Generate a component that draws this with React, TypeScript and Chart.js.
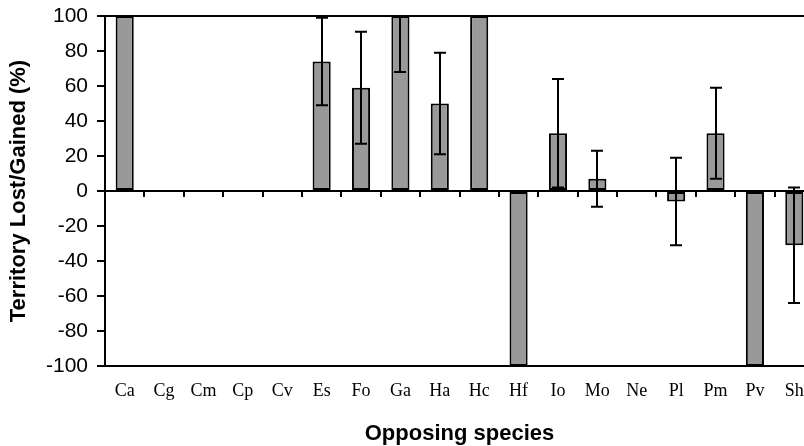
import React, { useEffect, useRef } from "react";
import { Chart, registerables } from "chart.js";

Chart.register(...registerables);

const categories = ["Ca", "Cg", "Cm", "Cp", "Cv", "Es", "Fo", "Ga", "Ha", "Hc", "Hf", "Io", "Mo", "Ne", "Pl", "Pm", "Pv", "Sh"];
const values = [100, 0, 0, 0, 0, 74, 59, 100, 50, 100, -100, 33, 7, 0, -6, 33, -100, -31];
const errors = [0, 0, 0, 0, 0, 25, 32, 32, 29, 0, 0, 31, 16, 0, 25, 26, 0, 33];
const yTitle = "Territory Lost/Gained (%)";
const xTitle = "Opposing species";

const SANS = "'Liberation Sans', Arial, sans-serif";
const SERIF = "'Liberation Serif', 'Times New Roman', serif";

const errorBars = {
  id: "errorBars",
  afterDatasetsDraw(chart: any) {
    const { ctx, chartArea } = chart;
    const xs = chart.scales.x;
    const ys = chart.scales.y;
    ctx.save();
    ctx.beginPath();
    ctx.rect(chartArea.left, chartArea.top - 1, chartArea.right - chartArea.left, chartArea.bottom - chartArea.top + 2);
    ctx.clip();
    ctx.strokeStyle = "#000";
    ctx.lineWidth = 2;
    const cap = 6;
    values.forEach((v, i) => {
      const e = errors[i];
      if (!e) return;
      const x = Math.round(xs.getPixelForValue(i));
      const hi = ys.getPixelForValue(v + e);
      const lo = ys.getPixelForValue(v - e);
      ctx.beginPath();
      ctx.moveTo(x, hi);
      ctx.lineTo(x, lo);
      ctx.moveTo(x - cap, hi);
      ctx.lineTo(x + cap, hi);
      ctx.moveTo(x - cap, lo);
      ctx.lineTo(x + cap, lo);
      ctx.stroke();
    });
    ctx.restore();
    ctx.save();
    ctx.strokeStyle = "#000";
    ctx.lineWidth = 2;
    ctx.beginPath();
    ctx.moveTo(chartArea.left, chartArea.top);
    ctx.lineTo(chartArea.right, chartArea.top);
    ctx.stroke();
    ctx.restore();
  },
};

export default function App() {
  const ref = useRef<HTMLCanvasElement | null>(null);
  useEffect(() => {
    if (!ref.current) return;
    const chart = new Chart(ref.current, {
      type: "bar",
      data: {
        labels: categories,
        datasets: [
          {
            data: values,
            backgroundColor: "#999999",
            borderColor: "#000000",
            borderWidth: 2,
            borderSkipped: false,
            barPercentage: 0.46,
            categoryPercentage: 1,
            xAxisID: "x",
            yAxisID: "y",
          },
        ],
      },
      plugins: [errorBars],
      options: {
        animation: false,
        responsive: false,
        devicePixelRatio: 1,
        layout: { padding: { top: 16, right: 26, bottom: 0, left: 0 } },
        plugins: { legend: { display: false }, tooltip: { enabled: false } },
        scales: {
          x: {
            type: "category",
            position: "bottom",
            offset: true,
            grid: { display: false, drawTicks: false, tickLength: 0, offset: true },
            border: { display: true, color: "#000", width: 2 },
            ticks: {
              autoSkip: false,
              maxRotation: 0,
              padding: 14,
              color: "#000",
              font: { family: SERIF, size: 18 },
            },
            title: {
              display: true,
              text: xTitle,
              color: "#000",
              font: { family: SANS, size: 22, weight: "bold", lineHeight: 1 },
              padding: { top: 0, bottom: 1 },
            },
            afterFit: (s: any) => {
              s.height = 80;
              s.paddingLeft = 0;
              s.paddingRight = 0;
            },
          },
          x0: {
            type: "category",
            position: { y: 0 } as any,
            offset: true,
            grid: {
              display: true,
              offset: true,
              drawOnChartArea: false,
              drawTicks: true,
              tickLength: 5,
              color: "#000",
              lineWidth: 2,
            },
            border: { display: true, color: "#000", width: 2 },
            ticks: { display: false },
          },
          y: {
            type: "linear",
            min: -100,
            max: 100,
            ticks: {
              stepSize: 20,
              padding: 9,
              color: "#000",
              font: { family: SANS, size: 21 },
            },
            grid: {
              display: true,
              drawOnChartArea: false,
              drawTicks: true,
              tickLength: 8,
              color: "#000",
              lineWidth: 2,
            },
            border: { display: true, color: "#000", width: 2 },
            title: {
              display: true,
              text: yTitle,
              color: "#000",
              font: { family: SANS, size: 22, weight: "bold" },
              padding: { top: 6, bottom: 0 },
            },
            afterFit: (s: any) => {
              s.width = 105;
              s.paddingTop = 0;
              s.paddingBottom = 0;
            },
          },
        },
      },
    });
    return () => chart.destroy();
  }, []);
  return (
    <div style={{ position: "absolute", left: 0, top: 0, width: 804, height: 446, overflow: "hidden", background: "#fff" }}>
      <canvas ref={ref} width={840} height={446} style={{ display: "block", width: 840, height: 446 }} />
    </div>
  );
}
